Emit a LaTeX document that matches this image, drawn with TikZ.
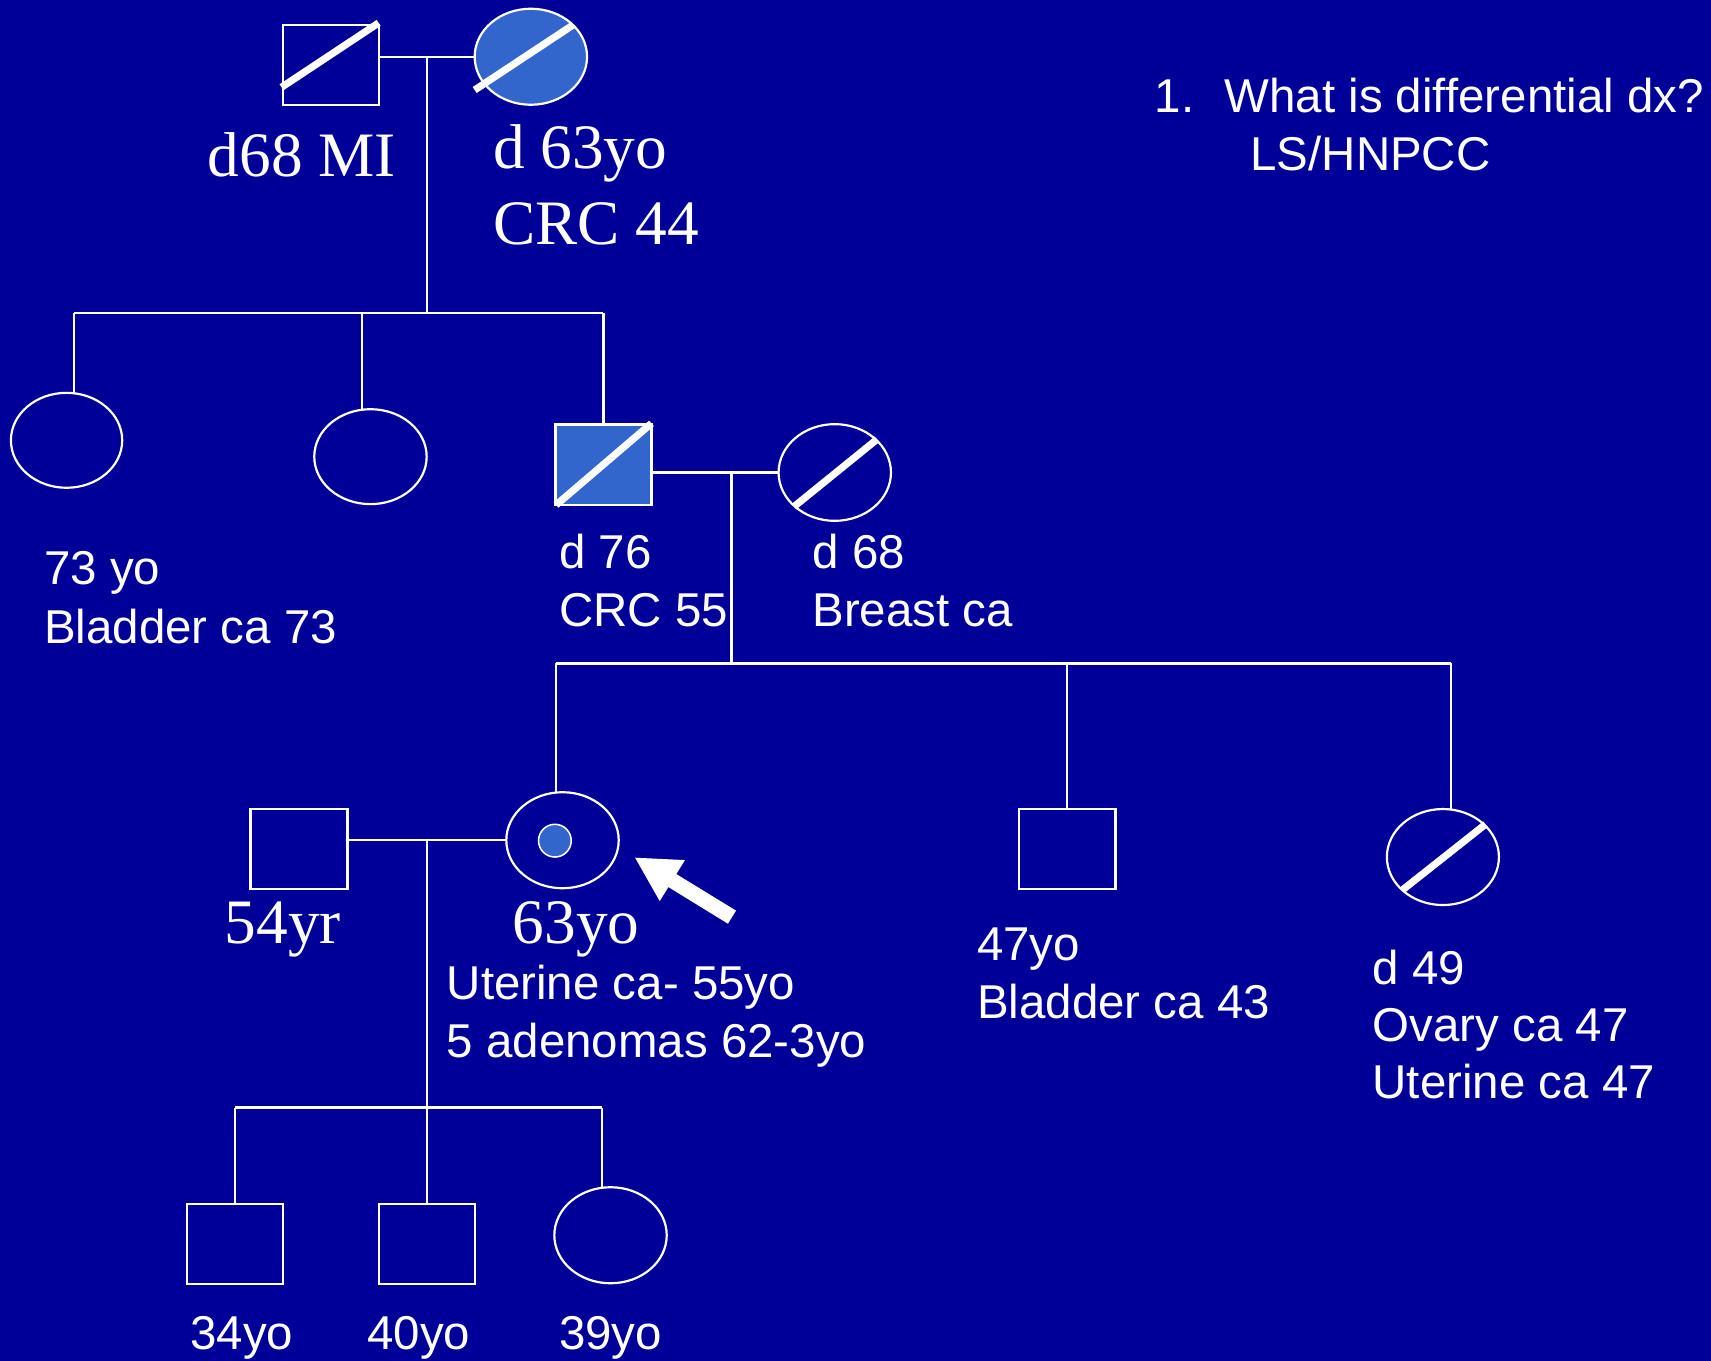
\documentclass[tikz,border=0pt]{standalone}
\usepackage{fontspec}
\setmainfont{Liberation Serif}
\newfontfamily\arialf{Liberation Sans}
\usetikzlibrary{shapes.geometric}
\definecolor{bgblue}{HTML}{000099}
\definecolor{fillblue}{HTML}{3366CC}
\begin{document}
\begin{tikzpicture}[x=0.5pt,y=-0.5pt,
  line/.style={draw=white, line width=1pt},
  male/.style={rectangle, draw=white, line width=1pt, minimum width=44pt, minimum height=36.7pt, inner sep=0pt, outer sep=0pt},
  female/.style={ellipse, draw=white, line width=1pt, minimum width=51.5pt, minimum height=44pt, inner sep=0pt, outer sep=0pt},
  affected/.style={fill=fillblue},
  deceased/.style={draw=white, line width=3.3pt},
  serif/.style={text=white, font=\fontsize{29pt}{34pt}\selectfont, inner sep=0pt, anchor=base west},
  sans/.style={text=white, font=\arialf\fontsize{21.75pt}{26pt}\selectfont, inner sep=0pt, anchor=base west}]
\fill[bgblue] (0,0) rectangle (1568,1247);
\useasboundingbox (0,0) rectangle (1568,1247);

% Generation I
\node[male] (f1) at (303,59.3) {};
\node[female, affected] (m1) at (486.5,52) {};
\draw[deceased] (258,80) -- (347,21);
\draw[deceased] (435,82.5) -- (525,23);
\coordinate (c1) at (391,52);
\coordinate (s1) at (391,287);
\draw[line] (f1.east |- m1.west) -- (m1.west);
\draw[line] (c1) -- (s1);
\node[serif] (t1) at (190,162) {d68 MI};
\node[serif] (t2) at (451.5,154.3) {d 63yo};
\node[serif] (t3) at (451.5,224.5) {CRC 44};

% Question
\node[sans] (q1) at (1058,103.3) {1.};
\node[sans] (q2) at (1121.8,103.3) {What is differential dx?};
\node[sans] (q3) at (1145.6,156.4) {LS/HNPCC};

% Generation II
\node[female, minimum width=51pt, minimum height=43.5pt] (a2) at (61,403.5) {};
\node[female, minimum height=43.5pt] (b2) at (339.5,418.5) {};
\node[male, affected, minimum height=37pt] (c2) at (553,426) {};
\node[female, minimum height=44.3pt] (d2) at (765,433) {};
\draw[deceased] (509.6,462.8) -- (597,388);
\draw[deceased] (727.6,464.3) -- (803.7,402.6);
\draw[line] (a2.81 |- s1) -- (c2.north |- s1);
\draw[line] (a2.81 |- s1) -- (a2.81);
\draw[line] (b2.100 |- s1) -- (b2.100);
\draw[line] (c2.north |- s1) -- (c2.north);
\draw[line] (c2.east |- d2.west) -- (d2.west);
\coordinate (c2m) at (670.4,433);
\coordinate (s2) at (670.4,608);
\draw[line] (c2m) -- (s2);
\node[sans] (u1) at (40,536) {73 yo};
\node[sans] (u2) at (40,589.6) {Bladder ca 73};
\node[sans] (u3) at (512,521) {d 76};
\node[sans] (u4) at (512,574.3) {CRC 55};
\node[sans] (u5) at (744.2,521) {d 68};
\node[sans] (u6) at (744.2,574.3) {Breast ca};

% Generation III
\node[male, minimum width=44.4pt, minimum height=36.65pt] (s3) at (274,778) {};
\node[female] (p3) at (515.5,770) {};
\node[circle, fill=fillblue, draw=white, line width=0.7pt, minimum size=15pt, inner sep=0pt] (p3d) at (508.5,770.4) {};
\node[male, minimum width=44.3pt, minimum height=36.65pt] (e3) at (978,778) {};
\node[female, minimum width=51.35pt] (g3) at (1322.3,785.4) {};
\draw[deceased] (1285.2,815.6) -- (1361.3,755.4);
\draw[line] (p3.98 |- s2) -- (g3.80 |- s2);
\draw[line] (p3.98 |- s2) -- (p3.98);
\draw[line] (e3.north |- s2) -- (e3.north);
\draw[line] (g3.80 |- s2) -- (g3.80);
\draw[line] (s3.east |- p3.west) -- (p3.west);
\coordinate (c3) at (391,770);
\coordinate (s4) at (391,1015);
\draw[line] (c3) -- (s4);
\fill[white] (582,786) -- (604.6,825.8) -- (612.5,812.9) -- (667.1,846.5) -- (674.5,834.5) -- (619.8,801) -- (627.7,788.2) -- cycle;
\node[serif] (v1) at (205.7,865) {54yr};
\node[serif] (v2) at (469.7,865) {63yo};
\node[sans] (v3) at (409,916.4) {Uterine ca- 55yo};
\node[sans] (v4) at (409,969) {5 adenomas 62-3yo};
\node[sans] (v5) at (895,880.4) {47yo};
\node[sans] (v6) at (895,933.2) {Bladder ca 43};
\node[sans] (v7) at (1257.5,901.8) {d 49};
\node[sans] (v8) at (1257.5,954.6) {Ovary ca 47};
\node[sans] (v9) at (1257.5,1006.5) {Uterine ca 47};

% Generation IV
\node[male, minimum width=44.2pt, minimum height=36.8pt] (h4) at (215.4,1140) {};
\node[male] (i4) at (391,1140) {};
\node[female] (j4) at (559.5,1132) {};
\draw[line] (h4.north |- s4) -- (j4.100 |- s4);
\draw[line] (h4.north |- s4) -- (h4.north);
\draw[line] (s4) -- (i4.north);
\draw[line] (j4.100 |- s4) -- (j4.100);
\node[sans, anchor=base] (w1) at (221.5,1236.5) {34yo};
\node[sans, anchor=base] (w2) at (383.7,1236.5) {40yo};
\node[sans, anchor=base] (w3) at (559.5,1236.5) {39yo};
\end{tikzpicture}
\end{document}
